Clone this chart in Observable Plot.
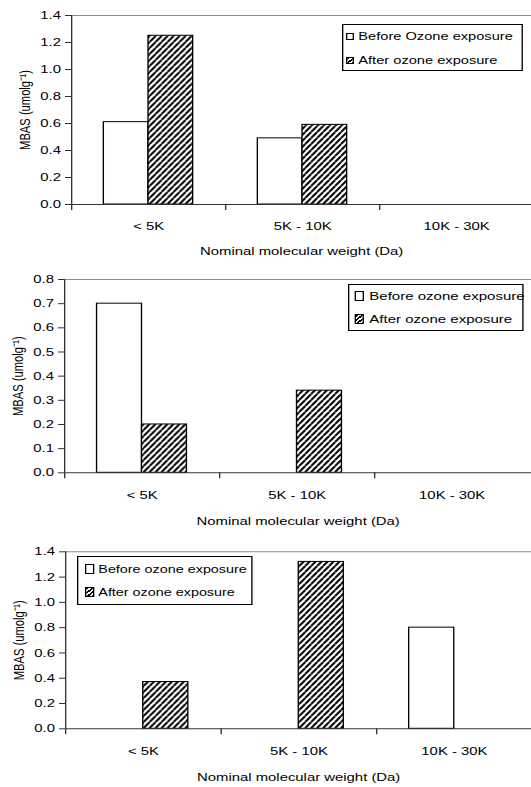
<!DOCTYPE html>
<html>
<head>
<meta charset="utf-8">
<script src="https://cdn.jsdelivr.net/npm/d3@7"></script>
<script src="https://cdn.jsdelivr.net/npm/@observablehq/plot@0.6"></script>
<style>
body { margin: 0; background: #fff; font-family: "Liberation Sans", Arial, sans-serif; }
.panel { position: relative; width: 531px; overflow: hidden; }
.legend { position: absolute; border: 1px solid #000; box-sizing: border-box; transform-origin: 0 0; background: #fff; color: #000; }
.row { position: absolute; display: flex; align-items: center; white-space: nowrap; height: 20px; }
.sw { display: inline-block; box-sizing: border-box; border: 1px solid #000; background: #fff; flex: none; }
</style>
</head>
<body>
<svg width="0" height="0" style="position:absolute">
  <defs>
    <pattern id="hatch" patternUnits="userSpaceOnUse" width="4.5" height="6">
      <rect width="4.5" height="6" fill="#fff"></rect>
      <path d="M-4.5,6L0,0M0,6L4.5,0M4.5,6L9,0" stroke="#000" stroke-width="1.7"></path>
    </pattern>
  </defs>
</svg>
<div id="chart"></div>
<script>
// ---- data ----
const categories = ["< 5K", "5K - 10K", "10K - 30K"];
const before1 = [0.61, 0.49, 0];
const after1  = [1.25, 0.59, 0];
const before2 = [0.70, 0, 0];
const after2  = [0.20, 0.34, 0];
const before3 = [0, 0, 0.80];
const after3  = [0.37, 1.32, 0];
const yTicks1 = [0, 0.2, 0.4, 0.6, 0.8, 1.0, 1.2, 1.4];
const yTicks2 = [0, 0.1, 0.2, 0.3, 0.4, 0.5, 0.6, 0.7, 0.8];
const yTicks3 = [0, 0.2, 0.4, 0.6, 0.8, 1.0, 1.2, 1.4];
const legend1 = ["Before Ozone exposure", "After ozone exposure"];
const legend2 = ["Before ozone exposure", "After ozone exposure"];
const legend3 = ["Before ozone exposure", "After ozone exposure"];
const xTitle = "Nominal molecular weight (Da)";
const yTitle = "MBAS (umolg\u207B\u00B9)";

// ---- layout ----
const K = 1.33; // horizontal stretch of the original figure
const W = 531 / K;
const hatchCss = "repeating-linear-gradient(135deg, #000 0 1.4px, #fff 1.4px 2.8px)";

const panels = [
  {before: before1, after: after1, yticks: yTicks1, ymax: 1.4, labels: legend1,
   height: 262, mt: 15, mb: 58, axisX: 71, band: 154, lo: 50,
   lg: {x: 342, y: 24, w: 181, h: 47, rowY: [12, 36], swx: 3, sws: 7, gap: 5, fs: 11}},
  {before: before2, after: after2, yticks: yTicks2, ymax: 0.8, labels: legend2,
   height: 268, mt: 17, mb: 57.7, axisX: 64, band: 155, lo: 52,
   lg: {x: 348, y: 22, w: 175, h: 47, rowY: [12, 35], swx: 5, sws: 10, gap: 5, fs: 11.3}},
  {before: before3, after: after3, yticks: yTicks3, ymax: 1.4, labels: legend3,
   height: 257, mt: 21.3, mb: 58.7, axisX: 65, band: 155.5, lo: 52.5,
   lg: {x: 76.5, y: 26, w: 175, h: 49, rowY: [13, 36], swx: 6, sws: 9.5, gap: 4.5, fs: 10.8}}
];

const root = document.getElementById("chart");

panels.forEach(cfg => {
  const ml = cfg.axisX / K;
  const bw = cfg.band / K;
  const rows = categories.map((c, i) => ({cat: c, before: cfg.before[i], after: cfg.after[i]}));
  const svg = Plot.plot({
    width: W,
    height: cfg.height,
    marginLeft: ml,
    marginRight: 0,
    marginTop: cfg.mt,
    marginBottom: cfg.mb,
    style: {fontFamily: '"Liberation Sans", Arial, sans-serif', fontSize: "11.2px", color: "#000", background: "#fff", overflow: "visible"},
    x: {type: "band", domain: categories, range: [ml, ml + 3 * bw], padding: 0, round: false},
    y: {domain: [0, cfg.ymax]},
    marks: [
      Plot.ruleY([cfg.ymax], {stroke: "#8c8c8c"}),
      Plot.barY(rows.filter(d => d.before > 0), {x: "cat", y: "before", fill: "#fff", stroke: "#000", insetLeft: 0.21 * bw, insetRight: 0.5 * bw}),
      Plot.barY(rows.filter(d => d.after > 0), {x: "cat", y: "after", fill: "url(#hatch)", stroke: "#000", insetLeft: 0.5 * bw, insetRight: 0.21 * bw}),
      Plot.ruleY([0], {stroke: "#333"}),
      Plot.ruleX(categories.slice(0, 1), {x: d => d, dx: -bw / 2, stroke: "#333"}),
      Plot.axisX({tickSize: 6, tickFormat: () => "", dx: -bw / 2, label: null, stroke: "#333"}),
      Plot.axisX({tickSize: 0, tickPadding: 18, label: xTitle, labelAnchor: "center", labelArrow: "none", labelOffset: cfg.lo}),
      Plot.axisY({ticks: cfg.yticks, tickFormat: d3.format(".1f"), tickSize: 4.5, tickPadding: 3.5, stroke: "#333",
                  label: yTitle, labelAnchor: "center", labelArrow: "none", labelOffset: 39})
    ]
  });
  svg.setAttribute("width", 531);
  svg.setAttribute("preserveAspectRatio", "none");
  svg.style.width = "531px";
  svg.style.height = cfg.height + "px";
  svg.style.maxWidth = "none";
  svg.style.display = "block";

  const div = document.createElement("div");
  div.className = "panel";
  div.style.height = cfg.height + "px";
  div.appendChild(svg);

  const g = cfg.lg;
  const L = document.createElement("div");
  L.className = "legend";
  L.style.left = g.x + "px";
  L.style.top = g.y + "px";
  L.style.width = (g.w / K) + "px";
  L.style.height = g.h + "px";
  L.style.transform = `scaleX(${K})`;
  L.style.fontSize = g.fs + "px";
  cfg.labels.forEach((t, i) => {
    const r = document.createElement("div");
    r.className = "row";
    r.style.top = (g.rowY[i] - 11) + "px";
    r.style.left = (g.swx / K) + "px";
    const s = document.createElement("span");
    s.className = "sw";
    s.style.width = (g.sws / K) + "px";
    s.style.height = g.sws + "px";
    s.style.marginRight = (g.gap / K) + "px";
    if (i === 1) s.style.background = hatchCss;
    const tx = document.createElement("span");
    tx.textContent = t;
    r.append(s, tx);
    L.appendChild(r);
  });
  div.appendChild(L);
  root.appendChild(div);
});
</script>
</body>
</html>
